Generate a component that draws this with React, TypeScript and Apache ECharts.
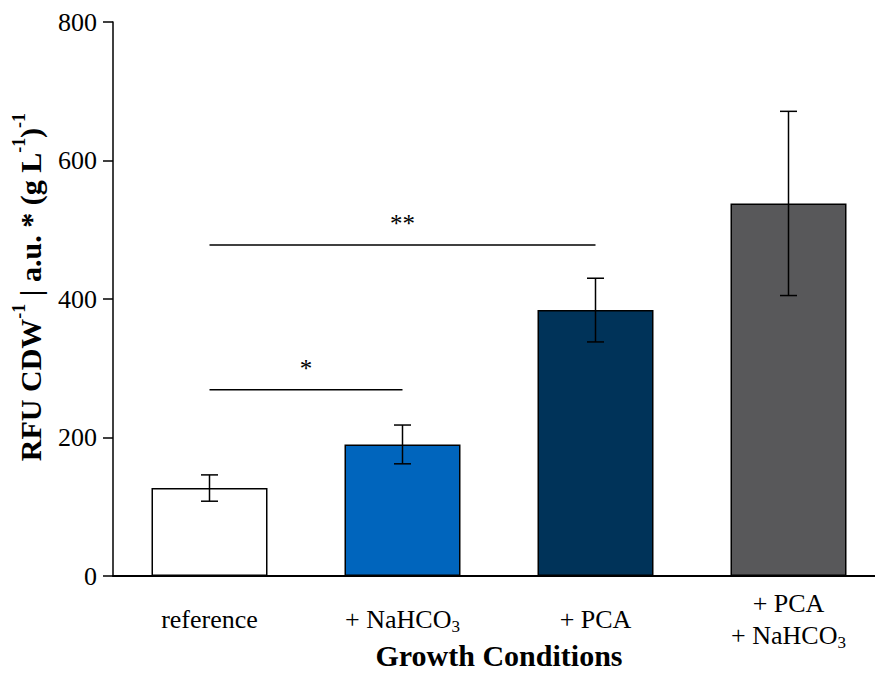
import React, { useEffect, useRef } from 'react';
import * as echarts from 'echarts';

const categories = ['reference', '+ NaHCO3', '+ PCA', '+ PCA\n+ NaHCO3'];
const means = [127, 190, 384, 538];
const errors = [19, 28, 46, 133];
const barColors = ['#FFFFFF', '#0065BD', '#003359', '#58585A'];
const yTicks = [0, 200, 400, 600, 800];
const sigFrom = [0, 0];
const sigTo = [1, 2];
const sigLevel = [269, 478];
const sigLabel = ['*', '**'];

const FONT = '"Liberation Serif", "Times New Roman", serif';

export default function App() {
  const ref = useRef<HTMLDivElement>(null);
  useEffect(() => {
    document.body.style.margin = '0';
    const chart = echarts.init(ref.current as HTMLDivElement, null, { renderer: 'svg' });
    const subFmt = (s: string) => s.replace(/CO3/g, 'CO{sub|3}');

    const errorBars = (params: any, api: any) => {
      const x = api.value(0);
      const lo = api.coord([x, api.value(1)]);
      const hi = api.coord([x, api.value(2)]);
      const hw = 8.5;
      const st = { stroke: '#000', lineWidth: 1.5 };
      return {
        type: 'group',
        children: [
          { type: 'line', shape: { x1: lo[0], y1: lo[1], x2: hi[0], y2: hi[1] }, style: st },
          { type: 'line', shape: { x1: lo[0] - hw, y1: lo[1], x2: lo[0] + hw, y2: lo[1] }, style: st },
          { type: 'line', shape: { x1: hi[0] - hw, y1: hi[1], x2: hi[0] + hw, y2: hi[1] }, style: st },
        ],
      };
    };

    const sigRender = (params: any, api: any) => {
      const a = api.coord([api.value(0), api.value(2)]);
      const b = api.coord([api.value(1), api.value(2)]);
      const label = sigLabel[params.dataIndex];
      return {
        type: 'group',
        children: [
          { type: 'line', shape: { x1: a[0], y1: a[1], x2: b[0], y2: b[1] }, style: { stroke: '#000', lineWidth: 1.5 } },
          {
            type: 'text',
            style: {
              text: label,
              x: (a[0] + b[0]) / 2,
              y: a[1] - 9,
              align: 'center',
              verticalAlign: 'bottom',
              fontSize: 25,
              fontFamily: FONT,
              fill: '#000',
            },
          },
        ],
      };
    };

    chart.setOption({
      animation: false,
      backgroundColor: '#fff',
      grid: { left: 113, top: 22, width: 772, height: 554, containLabel: false, outerBoundsMode: 'none' },
      xAxis: {
        type: 'category',
        data: categories,
        axisLine: { lineStyle: { color: '#000', width: 2 } },
        axisTick: { alignWithLabel: true, length: 8, lineStyle: { color: '#000', width: 1.5 } },
        axisLabel: {
          formatter: subFmt,
          fontSize: 26,
          fontFamily: FONT,
          color: '#000',
          margin: 43,
          verticalAlign: 'middle',
          lineHeight: 32,
          interval: 0,
          rich: {
            sub: { fontSize: 17, fontFamily: FONT, color: '#000', lineHeight: 17, verticalAlign: 'bottom' },
          },
        },
        name: 'Growth Conditions',
        nameLocation: 'middle',
        nameGap: 64,
        nameMoveOverlap: false,
        nameTextStyle: { fontSize: 30, fontWeight: 'bold', fontFamily: FONT, color: '#000' },
      },
      yAxis: {
        type: 'value',
        min: yTicks[0],
        max: yTicks[yTicks.length - 1],
        interval: yTicks[1] - yTicks[0],
        axisLine: { show: true, lineStyle: { color: '#000', width: 1.5 } },
        axisTick: { show: true, length: 10, lineStyle: { color: '#000', width: 1.5 } },
        axisLabel: { fontSize: 26, fontFamily: FONT, color: '#000', margin: 16 },
        splitLine: { show: false },
      },
      series: [
        {
          type: 'bar',
          data: means.map((v, i) => ({ value: v, itemStyle: { color: barColors[i] } })),
          barWidth: 116,
          itemStyle: { borderColor: '#000', borderWidth: 1.5 },
          z: 2,
        },
        {
          type: 'custom',
          renderItem: errorBars,
          data: means.map((m, i) => [i, m - errors[i], m + errors[i]]),
          z: 10,
        },
        {
          type: 'custom',
          renderItem: sigRender,
          data: sigFrom.map((f, i) => [f, sigTo[i], sigLevel[i]]),
          encode: { x: 0, y: 2 },
          z: 10,
        },
      ],
      graphic: [
        {
          type: 'text',
          x: 30,
          y: 287,
          rotation: Math.PI / 2,
          style: {
            text: 'RFU CDW{sup|-1} | a.u. * (g L{sup|-1}){sup|-1}',
            fontSize: 30,
            fontWeight: 'bold',
            fontFamily: FONT,
            fill: '#000',
            align: 'center',
            verticalAlign: 'middle',
            lineHeight: 40,
            rich: {
              sup: { fontSize: 18, fontWeight: 'bold', fontFamily: FONT, fill: '#000', lineHeight: 18, verticalAlign: 'top' },
            },
          },
        },
      ],
    });
    return () => chart.dispose();
  }, []);
  return <div ref={ref} style={{ width: 875, height: 673 }} />;
}
